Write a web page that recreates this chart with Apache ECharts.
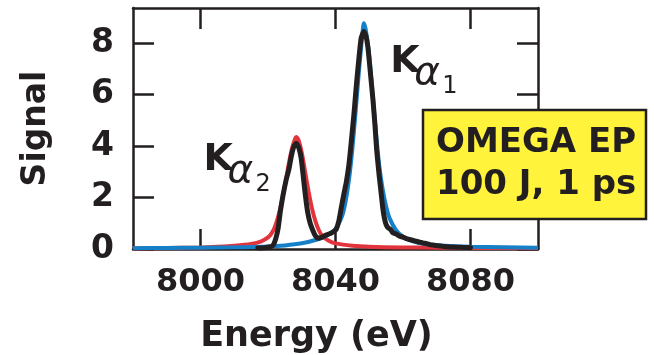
<!DOCTYPE html>
<html>
<head>
<meta charset="utf-8">
<script src="https://cdn.jsdelivr.net/npm/echarts@6/dist/echarts.min.js"></script>
<style>
  html, body { margin: 0; padding: 0; background: #ffffff; }
  #chart { width: 654px; height: 355px; }
</style>
</head>
<body>
<div id="chart"></div>
<script>
// Cu K-alpha spectrum: measured signal with the two fitted line profiles.

// Fitted K-alpha-2 profile (red)
const ka2FitEnergy = [7980, 7990, 8000, 8005, 8010, 8015, 8018, 8020, 8021, 8022, 8023, 8024, 8025, 8026, 8027, 8028, 8028.4, 8029, 8030, 8031, 8032, 8033, 8034, 8035, 8036, 8038, 8040, 8045, 8050, 8060, 8070, 8080, 8100];
const ka2FitSignal = [0.02, 0.04, 0.06, 0.09, 0.13, 0.2, 0.3, 0.45, 0.6, 0.85, 1.25, 1.8, 2.45, 3.2, 3.85, 4.28, 4.35, 4.25, 3.75, 3.0, 2.25, 1.6, 1.1, 0.75, 0.52, 0.32, 0.22, 0.13, 0.09, 0.06, 0.05, 0.04, 0.03];

// Fitted K-alpha-1 profile (blue)
const ka1FitEnergy = [7980, 7990, 8000, 8010, 8020, 8025, 8030, 8034, 8037, 8040, 8042, 8043, 8044, 8045, 8046, 8047, 8048, 8048.4, 8049, 8050, 8051, 8052, 8053, 8054, 8055, 8056, 8058, 8060, 8063, 8066, 8070, 8075, 8080, 8090, 8100];
const ka1FitSignal = [0.03, 0.04, 0.05, 0.07, 0.1, 0.14, 0.22, 0.35, 0.5, 0.78, 1.3, 1.85, 2.7, 3.9, 5.4, 7.0, 8.4, 8.78, 8.5, 7.5, 6.0, 4.5, 3.2, 2.3, 1.65, 1.2, 0.72, 0.48, 0.3, 0.2, 0.15, 0.11, 0.09, 0.07, 0.05];

// Measured spectrum (black)
const measEnergy = [8017, 8019, 8020.5, 8021.5, 8022.3, 8023, 8023.7, 8024.4, 8025.4, 8026.2, 8026.9, 8027.7, 8028.4, 8029.1, 8029.8, 8030.3, 8030.8, 8031.3, 8031.8, 8032.5, 8033.3, 8034, 8034.8, 8036, 8037.2, 8038.5, 8039.5, 8040.2, 8041, 8041.7, 8042.5, 8043.2, 8044, 8044.7, 8045.5, 8046.2, 8047, 8047.6, 8048.4, 8049, 8049.6, 8050.3, 8051.1, 8051.7, 8052.2, 8052.9, 8053.5, 8054, 8054.5, 8055, 8055.6, 8056.3, 8057, 8058, 8059, 8060, 8061, 8062, 8063, 8064, 8065, 8066, 8067, 8068, 8069, 8070, 8071, 8072, 8074, 8076, 8078, 8080];
const measSignal = [0.04, 0.05, 0.08, 0.15, 0.4, 0.8, 1.5, 2.05, 2.7, 3.1, 3.6, 4.0, 4.11, 3.95, 3.55, 3.0, 2.4, 1.85, 1.4, 1.0, 0.72, 0.52, 0.42, 0.46, 0.54, 0.6, 0.68, 0.76, 1.1, 1.6, 2.15, 2.6, 3.3, 4.2, 5.3, 6.4, 7.5, 8.2, 8.46, 8.3, 7.85, 6.9, 5.8, 4.8, 3.85, 2.9, 2.2, 1.6, 1.2, 0.95, 0.82, 0.76, 0.63, 0.58, 0.5, 0.46, 0.4, 0.37, 0.33, 0.3, 0.27, 0.23, 0.21, 0.17, 0.15, 0.13, 0.12, 0.1, 0.08, 0.07, 0.06, 0.05];

// Axis ticks
const energyTicks = [8000, 8040, 8080];
const signalTicks = [0, 2, 4, 6, 8];

// Peak annotation anchors, in data units [energy, signal]
const ka1LabelAnchor = [8056.5, 7.3];
const ka2LabelAnchor = [8001.2, 3.5];

const INK = '#231f20';
const BOLD = 'DejaVu Sans';

function zip(xs, ys) { return xs.map((x, i) => [x, ys[i]]); }

const chart = echarts.init(document.getElementById('chart'), null, { renderer: 'canvas' });

const axisCommon = {
  type: 'value',
  axisLine: { show: true, onZero: false, lineStyle: { color: INK, width: 2.5 } },
  splitLine: { show: false }
};
const plainNumber = (v) => String(v);

chart.setOption({
  animation: false,
  backgroundColor: '#ffffff',
  grid: { left: 133, right: 116, top: 8, bottom: 106, containLabel: false, outerBoundsMode: 'none' },
  xAxis: [
    Object.assign({}, axisCommon, {
      min: 7980, max: 8100, position: 'bottom',
      name: 'Energy (eV)', nameLocation: 'middle', nameGap: 70,
      nameTextStyle: { fontFamily: BOLD, fontWeight: 'bold', fontSize: 35, color: INK, padding: [0, 38, 0, 0] },
      axisTick: { show: true, inside: true, length: 20, customValues: energyTicks, lineStyle: { color: INK, width: 2.5 } },
      axisLabel: { show: true, customValues: energyTicks, formatter: plainNumber, margin: 18, fontFamily: BOLD, fontWeight: 'bold', fontSize: 32, color: INK }
    }),
    Object.assign({}, axisCommon, {
      min: 7980, max: 8100, position: 'top',
      axisTick: { show: true, inside: true, length: 21, customValues: energyTicks, lineStyle: { color: INK, width: 2.5 } },
      axisLabel: { show: false }
    })
  ],
  yAxis: [
    Object.assign({}, axisCommon, {
      min: 0, max: 9.37, position: 'left',
      name: 'Signal', nameLocation: 'middle', nameGap: 80,
      nameTextStyle: { fontFamily: BOLD, fontWeight: 'bold', fontSize: 33, color: INK },
      axisTick: { show: true, inside: true, length: 21, customValues: signalTicks, lineStyle: { color: INK, width: 2.5 } },
      axisLabel: { show: true, customValues: signalTicks, formatter: plainNumber, margin: 19, fontFamily: BOLD, fontWeight: 'bold', fontSize: 33, color: INK }
    }),
    Object.assign({}, axisCommon, {
      min: 0, max: 9.37, position: 'right',
      axisTick: { show: true, inside: true, length: 21, customValues: signalTicks, lineStyle: { color: INK, width: 2.5 } },
      axisLabel: { show: false }
    })
  ],
  series: [
    {
      name: 'K-alpha-2 fit', type: 'line', xAxisIndex: 0, yAxisIndex: 0,
      data: zip(ka2FitEnergy, ka2FitSignal), showSymbol: false, smooth: 0.25,
      lineStyle: { color: '#e2343c', width: 4 }, z: 2
    },
    {
      name: 'K-alpha-1 fit', type: 'line', xAxisIndex: 0, yAxisIndex: 0,
      data: zip(ka1FitEnergy, ka1FitSignal), showSymbol: false, smooth: 0.25,
      lineStyle: { color: '#1580c8', width: 4 }, z: 3
    },
    {
      name: 'Measured', type: 'line', xAxisIndex: 0, yAxisIndex: 0,
      data: zip(measEnergy, measSignal), showSymbol: false, smooth: 0.15,
      lineStyle: { color: INK, width: 5, join: 'round', cap: 'round' }, z: 4
    }
  ]
});

// Peak labels: K, italic alpha and subscript index, placed from data anchors
function peakLabel(anchor, index) {
  const p = chart.convertToPixel({ xAxisIndex: 0, yAxisIndex: 0 }, anchor);
  return {
    type: 'group', x: p[0], y: p[1],
    children: [
      { type: 'text', z: 100, x: -1, y: 1, style: { text: 'K', fontFamily: BOLD, fontWeight: 'bold', fontSize: 38, fill: INK, verticalAlign: 'middle', align: 'left' } },
      { type: 'text', z: 100, x: 23, y: 13, style: { text: 'α', fontFamily: 'DejaVu Sans', fontStyle: 'italic', fontSize: 39, fill: INK, verticalAlign: 'middle', align: 'left' } },
      { type: 'text', z: 100, x: 51, y: 26, style: { text: index, fontFamily: 'DejaVu Sans', fontSize: 24, fill: INK, verticalAlign: 'middle', align: 'left' } }
    ]
  };
}

chart.setOption({
  graphic: [
    peakLabel(ka1LabelAnchor, '1'),
    peakLabel(ka2LabelAnchor, '2'),
    {
      type: 'group', x: 423, y: 110,
      children: [
        { type: 'rect', z: 100, shape: { x: 0, y: 0, width: 223, height: 109 }, style: { fill: '#fff33b', stroke: INK, lineWidth: 2.5 } },
        { type: 'text', z: 101, x: 13, y: 33, style: { text: 'OMEGA EP', fontFamily: BOLD, fontWeight: 'bold', fontSize: 34, fill: INK, verticalAlign: 'middle', align: 'left' } },
        { type: 'text', z: 101, x: 13, y: 75, style: { text: '100 J, 1 ps', fontFamily: BOLD, fontWeight: 'bold', fontSize: 34, fill: INK, verticalAlign: 'middle', align: 'left' } }
      ]
    }
  ]
});
</script>
</body>
</html>
